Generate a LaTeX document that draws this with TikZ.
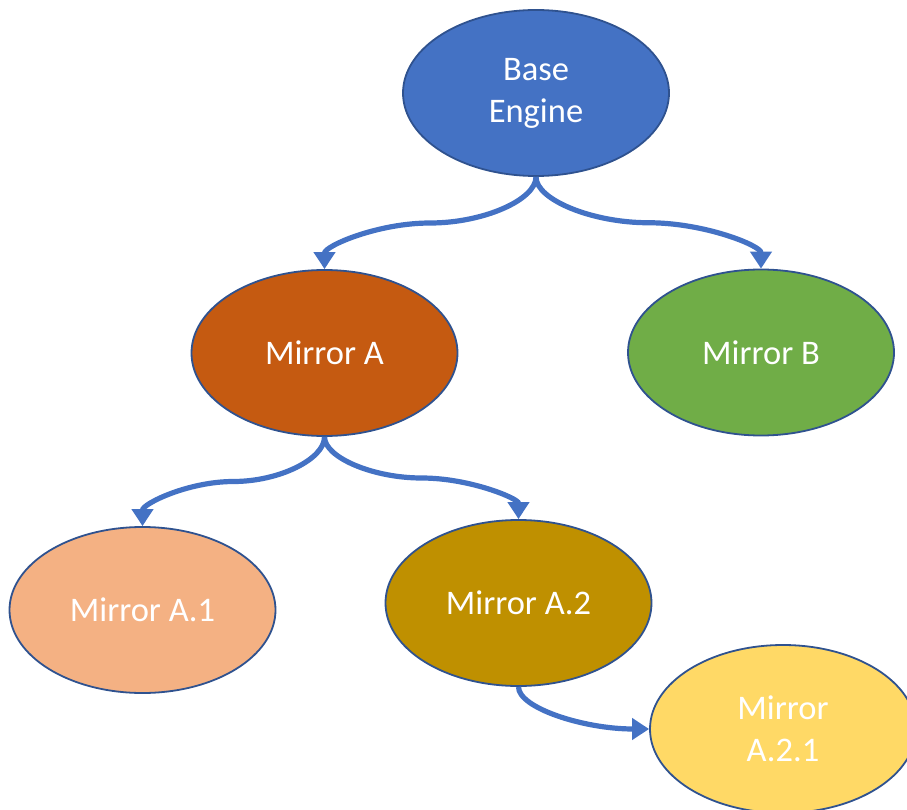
\documentclass[tikz,border=0pt]{standalone}
\usepackage{fontspec}
\setmainfont{Carlito}
\usetikzlibrary{shapes.geometric,arrows.meta,calc}
\definecolor{cBase}{HTML}{4472C4}
\definecolor{cA}{HTML}{C55A11}
\definecolor{cB}{HTML}{70AD47}
\definecolor{cAone}{HTML}{F4B183}
\definecolor{cAtwo}{HTML}{BF9000}
\definecolor{cAtwoone}{HTML}{FFD966}
\definecolor{cEdge}{HTML}{2F528F}
\definecolor{cConn}{HTML}{4472C4}
\tikzset{
  bubble/.style={ellipse, draw=cEdge, line width=1.8pt, minimum width=266pt, minimum height=166pt,
    inner sep=0pt, text=white, align=center, font=\fontsize{34.5}{42}\selectfont},
  conn/.style={draw=cConn, line width=5.2pt, -{Triangle[length=17pt,width=21pt]}}
}
\begin{document}
\begin{tikzpicture}[x=1pt,y=-1pt]
\useasboundingbox (0,0) rectangle (907,810);
\clip (0,0) rectangle (907,810);
\node[bubble, fill=cBase] (base) at (536,93) {Base\\Engine};
\node[bubble, fill=cA] (ma) at (324.5,353) {Mirror A};
\node[bubble, fill=cB] (mb) at (761,352.5) {Mirror B};
\node[bubble, fill=cAone] (ma1) at (142.5,610) {Mirror A.1};
\node[bubble, fill=cAtwo] (ma2) at (518.5,603) {Mirror A.2};
\node[bubble, fill=cAtwoone, minimum height=168pt] (ma21) at (783,729) {Mirror\\A.2.1};
% curved connectors (S-shaped, vertical ends)
\draw[conn] let \p1=(base.south), \p2=(ma.north) in
  (\p1) .. controls (\x1,{(3*\y1+\y2)/4}) and ({(3*\x1+\x2)/4},{(\y1+\y2)/2}) .. ({(\x1+\x2)/2},{(\y1+\y2)/2})
  .. controls ({(\x1+3*\x2)/4},{(\y1+\y2)/2}) and (\x2,{(\y1+3*\y2)/4}) .. (\p2);
\draw[conn] let \p1=(base.south), \p2=(mb.north) in
  (\p1) .. controls (\x1,{(3*\y1+\y2)/4}) and ({(3*\x1+\x2)/4},{(\y1+\y2)/2}) .. ({(\x1+\x2)/2},{(\y1+\y2)/2})
  .. controls ({(\x1+3*\x2)/4},{(\y1+\y2)/2}) and (\x2,{(\y1+3*\y2)/4}) .. (\p2);
\draw[conn] let \p1=(ma.south), \p2=(ma1.north) in
  (\p1) .. controls (\x1,{(3*\y1+\y2)/4}) and ({(3*\x1+\x2)/4},{(\y1+\y2)/2}) .. ({(\x1+\x2)/2},{(\y1+\y2)/2})
  .. controls ({(\x1+3*\x2)/4},{(\y1+\y2)/2}) and (\x2,{(\y1+3*\y2)/4}) .. (\p2);
\draw[conn] let \p1=(ma.south), \p2=(ma2.north) in
  (\p1) .. controls (\x1,{(3*\y1+\y2)/4}) and ({(3*\x1+\x2)/4},{(\y1+\y2)/2}) .. ({(\x1+\x2)/2},{(\y1+\y2)/2})
  .. controls ({(\x1+3*\x2)/4},{(\y1+\y2)/2}) and (\x2,{(\y1+3*\y2)/4}) .. (\p2);
% down then right
\draw[conn] let \p1=(ma2.south), \p2=(ma21.west) in
  (\p1) .. controls (\x1,{(\y1+\y2)/2}) and ({(\x1+\x2)/2},\y2) .. (\p2);
\end{tikzpicture}
\end{document}
